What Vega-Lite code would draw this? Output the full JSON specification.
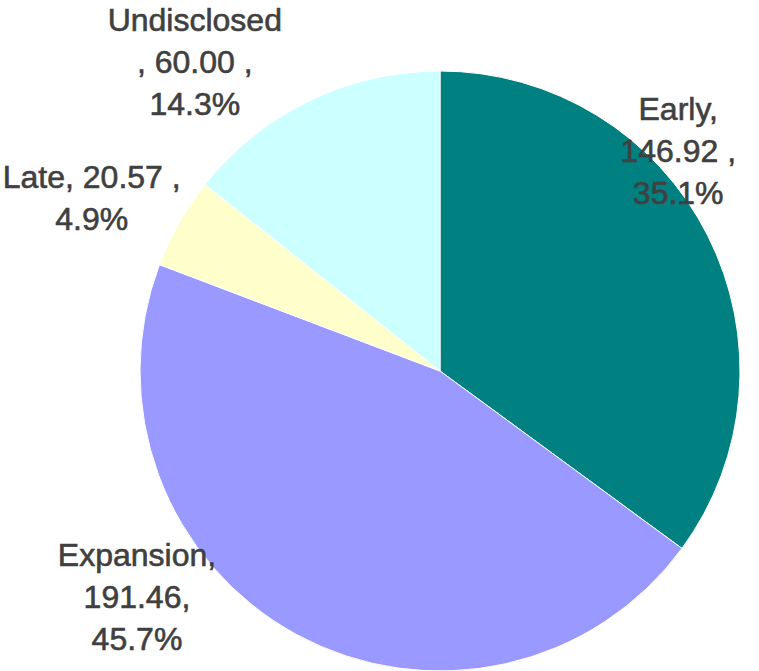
{
  "$schema": "https://vega.github.io/schema/vega-lite/v6.json",
  "width": 638,
  "height": 600,
  "padding": {"left": 121, "top": 71, "right": 0, "bottom": 0},
  "autosize": {"type": "none"},
  "background": "white",
  "view": {"stroke": null},
  "data": {
    "values": [
      {"stage": "Early", "value": 146.92, "label": "Early,\n146.92 ,\n35.1%"},
      {"stage": "Expansion", "value": 191.46, "label": "Expansion,\n191.46,\n45.7%"},
      {"stage": "Late", "value": 20.57, "label": "Late, 20.57 ,\n4.9%"},
      {"stage": "Undisclosed", "value": 60.00, "label": "Undisclosed\n, 60.00 ,\n14.3%"}
    ]
  },
  "encoding": {
    "theta": {"field": "value", "type": "quantitative", "stack": true},
    "color": {
      "field": "stage",
      "type": "nominal",
      "sort": ["Early", "Expansion", "Late", "Undisclosed"],
      "scale": {"domain": ["Early", "Expansion", "Late", "Undisclosed"], "range": ["#008080", "#9999FF", "#FFFFCC", "#CCFFFF"]},
      "legend": null
    }
  },
  "layer": [
    {"mark": {"type": "arc", "outerRadius": 300, "stroke": "white", "strokeWidth": 1}},
    {
      "mark": {"type": "text", "radius": 350, "dx": -74, "dy": -103, "font": "Liberation Sans", "fontSize": 32, "fill": "#404040", "stroke": "#404040", "strokeWidth": 0.6, "lineBreak": "\n", "lineHeight": 42, "align": "center", "baseline": "middle"},
      "encoding": {"text": {"condition": {"test": "datum.stage === 'Early'", "field": "label"}, "value": ""}}
    },
    {
      "mark": {"type": "text", "radius": 350, "dx": -136, "dy": -123, "font": "Liberation Sans", "fontSize": 32, "fill": "#404040", "stroke": "#404040", "strokeWidth": 0.6, "lineBreak": "\n", "lineHeight": 42, "align": "center", "baseline": "middle"},
      "encoding": {"text": {"condition": {"test": "datum.stage === 'Expansion'", "field": "label"}, "value": ""}}
    },
    {
      "mark": {"type": "text", "radius": 350, "dx": -44, "dy": -20, "font": "Liberation Sans", "fontSize": 32, "fill": "#404040", "stroke": "#404040", "strokeWidth": 0.6, "lineBreak": "\n", "lineHeight": 42, "align": "center", "baseline": "middle"},
      "encoding": {"text": {"condition": {"test": "datum.stage === 'Late'", "field": "label"}, "value": ""}}
    },
    {
      "mark": {"type": "text", "radius": 350, "dx": -93, "dy": -35, "font": "Liberation Sans", "fontSize": 32, "fill": "#404040", "stroke": "#404040", "strokeWidth": 0.6, "lineBreak": "\n", "lineHeight": 42, "align": "center", "baseline": "middle"},
      "encoding": {"text": {"condition": {"test": "datum.stage === 'Undisclosed'", "field": "label"}, "value": ""}}
    }
  ]
}
